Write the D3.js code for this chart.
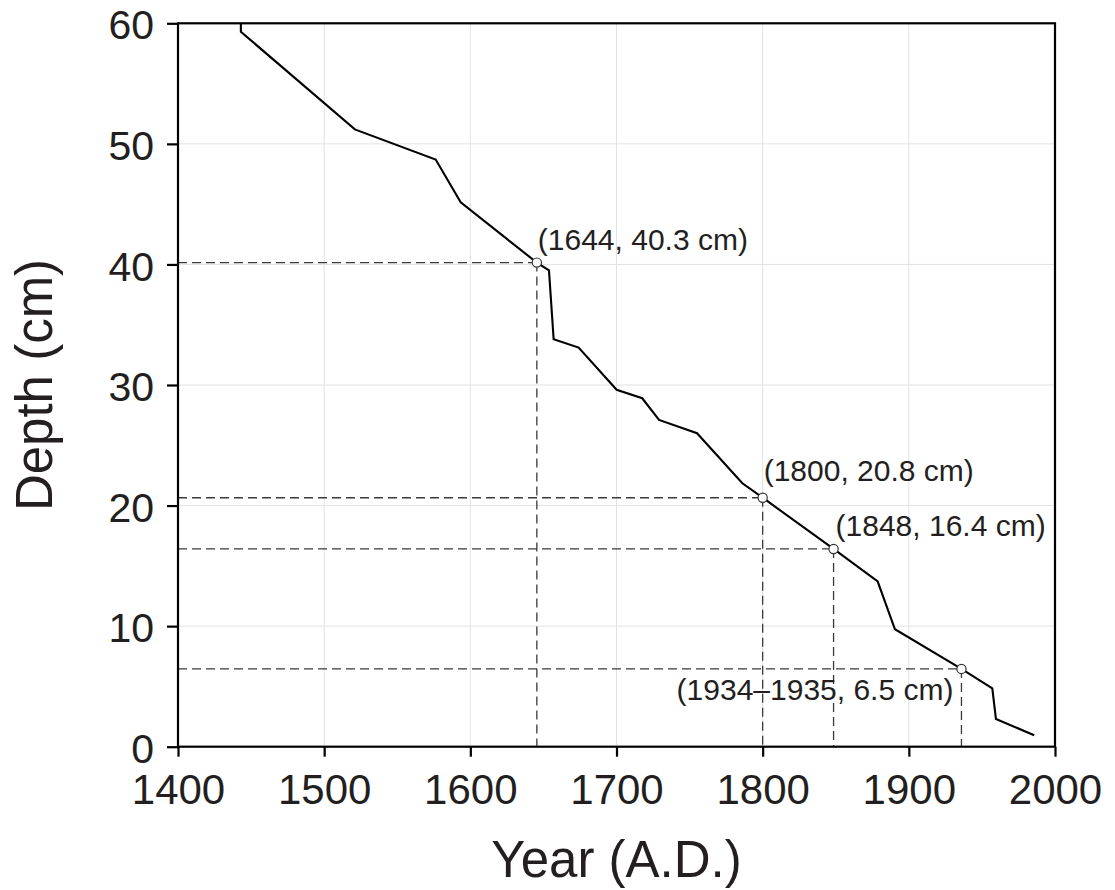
<!DOCTYPE html>
<html>
<head>
<meta charset="utf-8">
<script src="https://cdn.jsdelivr.net/npm/d3@7"></script>
<style>
  html, body { margin: 0; padding: 0; background: #fff; }
  svg text { font-family: "Liberation Sans", Arial, Helvetica, sans-serif; fill: #231f20; }
</style>
</head>
<body>
<script>
// ---- data ----
const years  = [1443, 1443, 1521, 1576.3, 1593.4, 1645.5, 1653.8, 1657, 1674.1, 1700.1, 1717.6, 1729.1, 1755.1, 1786.1, 1800, 1848.5, 1878.7, 1890.5, 1936, 1957.1, 1959.6, 1985.8];
const depths = [60, 59.3, 51.2, 48.7, 45.15, 40.15, 39.5, 33.8, 33.1, 29.6, 28.9, 27.1, 26.0, 21.85, 20.65, 16.4, 13.7, 9.74, 6.45, 4.84, 2.3, 0.95];

const markerYears  = [1645.5, 1800, 1848.5, 1936];
const markerDepths = [40.15, 20.65, 16.4, 6.45];
const markerLabels = ["(1644, 40.3 cm)", "(1800, 20.8 cm)", "(1848, 16.4 cm)", "(1934\u20131935, 6.5 cm)"];

const xTicks = [1400, 1500, 1600, 1700, 1800, 1900, 2000];
const yTicks = [0, 10, 20, 30, 40, 50, 60];
const xTitle = "Year (A.D.)";
const yTitle = "Depth (cm)";

// ---- layout ----
const W = 1115, H = 890;
const L = 178, R = 1055, T = 23.3, B = 746.7;

const svg = d3.select("body").append("svg").attr("width", W).attr("height", H);

const x = d3.scaleLinear().domain([1400, 2000]).range([L, R]);
const y = d3.scaleLinear().domain([0, 60]).range([B, T]);

// grid
const grid = svg.append("g");
grid.selectAll("line.gx").data(xTicks.slice(1, -1)).enter().append("line")
  .attr("x1", d => x(d)).attr("x2", d => x(d)).attr("y1", T).attr("y2", B)
  .attr("stroke", "#e2e2e2").attr("stroke-width", 1);
grid.selectAll("line.gy").data(yTicks.slice(1, -1)).enter().append("line")
  .attr("x1", L).attr("x2", R).attr("y1", d => y(d)).attr("y2", d => y(d))
  .attr("stroke", "#e2e2e2").attr("stroke-width", 1);

// dashed guides
const guides = svg.append("g").attr("stroke", "#3a3a3a").attr("stroke-width", 1.3).attr("stroke-dasharray", "9,5").attr("fill", "none");
markerYears.forEach((yr, i) => {
  guides.append("line").attr("x1", L).attr("x2", x(yr)).attr("y1", y(markerDepths[i])).attr("y2", y(markerDepths[i]));
  guides.append("line").attr("x1", x(yr)).attr("x2", x(yr)).attr("y1", y(markerDepths[i])).attr("y2", B);
});

// axes
const xAxis = d3.axisBottom(x).tickValues(xTicks).tickSize(10).tickPadding(14).tickFormat(d3.format("d"));
const yAxis = d3.axisLeft(y).tickValues(yTicks).tickSize(11).tickPadding(13).tickFormat(d3.format("d"));

const gx = svg.append("g").attr("transform", `translate(0,${B})`).call(xAxis);
const gy = svg.append("g").attr("transform", `translate(${L},0)`).call(yAxis);
[gx, gy].forEach(g => {
  g.select(".domain").remove();
  g.selectAll(".tick line").attr("stroke", "#000").attr("stroke-width", 2.2);
  g.selectAll(".tick text").attr("fill", "#231f20")
    .style("font-family", '"Liberation Sans", Arial, sans-serif');
});
gx.selectAll(".tick text").style("font-size", "42px").attr("dy", null).attr("y", 57);
gy.selectAll(".tick text").style("font-size", "41px").attr("dy", "0.38em");

// frame
svg.append("rect").attr("x", L).attr("y", T).attr("width", R - L).attr("height", B - T)
  .attr("fill", "none").attr("stroke", "#000").attr("stroke-width", 2.2);

// line
const line = d3.line().x((d, i) => x(years[i])).y((d, i) => y(depths[i]));
svg.append("path").datum(years).attr("d", line)
  .attr("fill", "none").attr("stroke", "#000").attr("stroke-width", 2.1).attr("stroke-linejoin", "miter");

// markers
svg.selectAll("circle.m").data(markerYears).enter().append("circle")
  .attr("cx", d => x(d)).attr("cy", (d, i) => y(markerDepths[i])).attr("r", 4.6)
  .attr("fill", "#fff").attr("stroke", "#333").attr("stroke-width", 1.2);

// annotation labels
const labelPos = [
  {dx: 1, dy: -13, anchor: "start"},
  {dx: 1, dy: -17, anchor: "start"},
  {dx: 2, dy: -13, anchor: "start"},
  {dx: -8, dy: 31, anchor: "end"}
];
svg.selectAll("text.ann").data(markerLabels).enter().append("text")
  .attr("x", (d, i) => x(markerYears[i]) + labelPos[i].dx)
  .attr("y", (d, i) => y(markerDepths[i]) + labelPos[i].dy)
  .attr("text-anchor", (d, i) => labelPos[i].anchor)
  .style("font-size", "30px")
  .text(d => d);

// titles
svg.append("text").attr("x", (L + R) / 2).attr("y", 877).attr("text-anchor", "middle")
  .style("font-size", "51px").text(xTitle);
svg.append("text").attr("transform", `translate(52,${(T + B) / 2}) rotate(-90)`).attr("text-anchor", "middle")
  .style("font-size", "51px").text(yTitle);
</script>
</body>
</html>
